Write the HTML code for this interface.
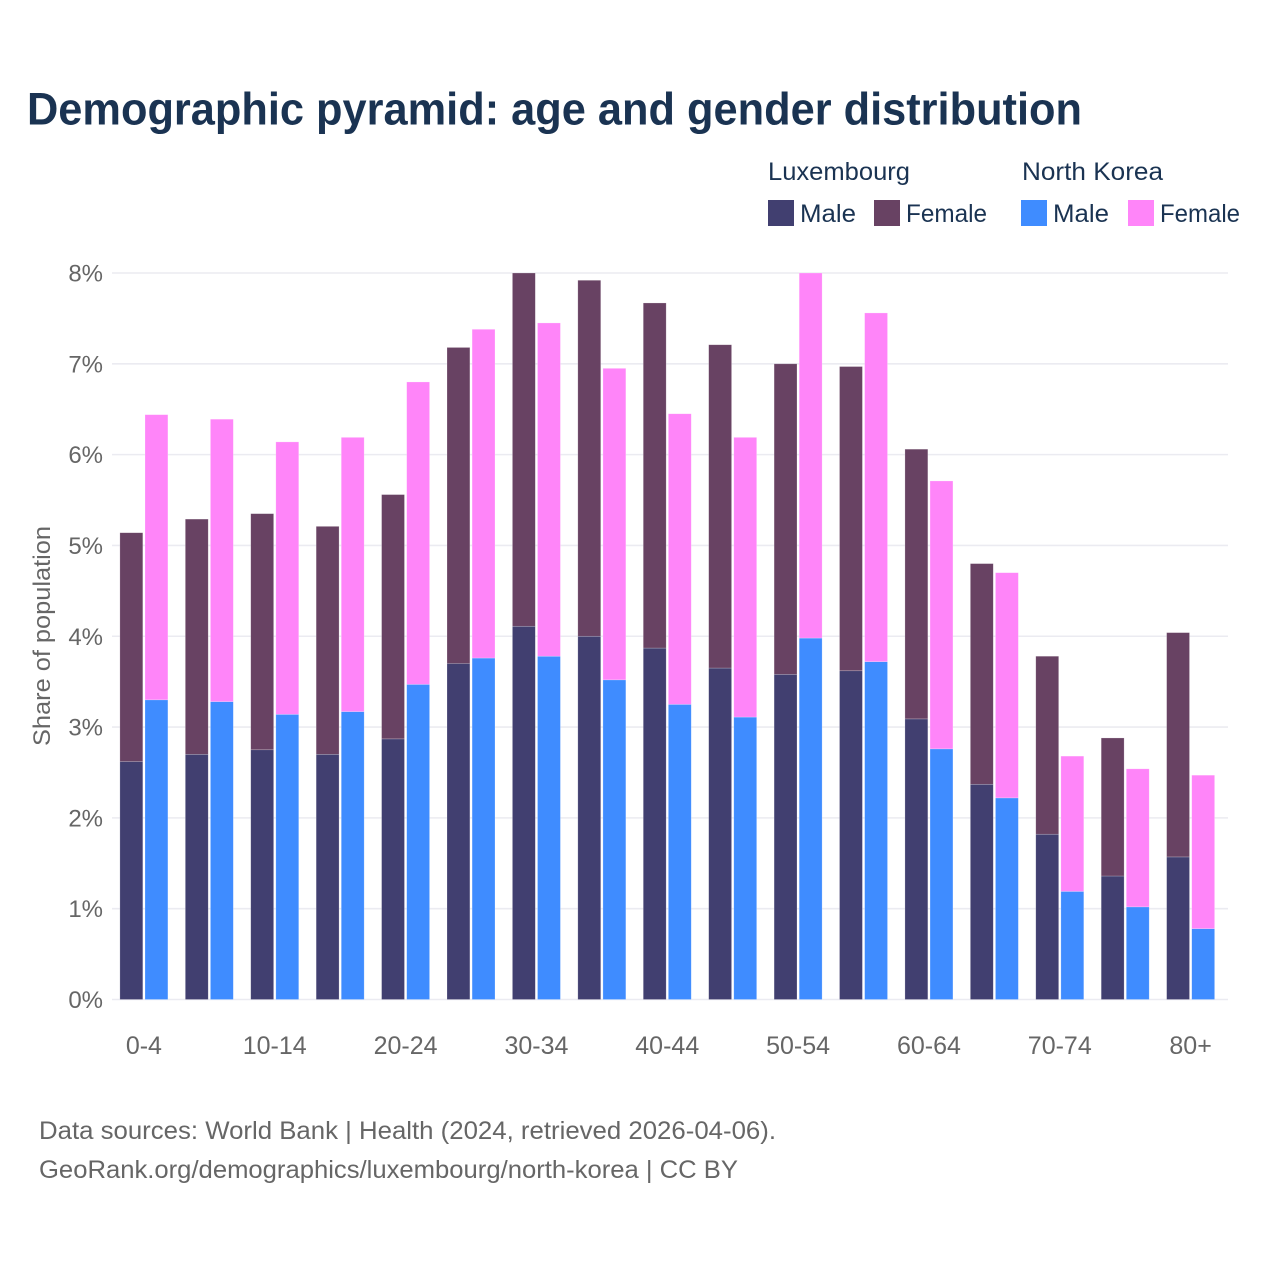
<!DOCTYPE html>
<html lang="en">
<head>
<meta charset="utf-8">
<title>Demographic pyramid: age and gender distribution</title>
<style>
html,body{margin:0;padding:0;background:#fff}
svg{display:block}
text{font-family:"Liberation Sans",sans-serif}
</style>
</head>
<body>
<svg id="chart" xmlns="http://www.w3.org/2000/svg" width="1280" height="1280" viewBox="0 0 1280 1280">
  <rect x="0" y="0" width="1280" height="1280" fill="#ffffff"/>
  <text x="27" y="124.5" font-size="45" font-weight="700" fill="#1a3352" textLength="1055" lengthAdjust="spacingAndGlyphs">Demographic pyramid: age and gender distribution</text>

  <g>
    <text x="768" y="180" font-size="25" fill="#1a3352" textLength="142" lengthAdjust="spacingAndGlyphs">Luxembourg</text>
    <text x="1022" y="180" font-size="25" fill="#1a3352" textLength="141" lengthAdjust="spacingAndGlyphs">North Korea</text>
    <rect x="768" y="200" width="26" height="26" fill="#413f70"/>
    <text x="800" y="222" font-size="25" fill="#1a3352" textLength="56" lengthAdjust="spacingAndGlyphs">Male</text>
    <rect x="874" y="200" width="26" height="26" fill="#684263"/>
    <text x="906" y="222" font-size="25" fill="#1a3352" textLength="81" lengthAdjust="spacingAndGlyphs">Female</text>
    <rect x="1021" y="200" width="26" height="26" fill="#3f8cff"/>
    <text x="1053" y="222" font-size="25" fill="#1a3352" textLength="56" lengthAdjust="spacingAndGlyphs">Male</text>
    <rect x="1128" y="200" width="26" height="26" fill="#ff85f9"/>
    <text x="1160" y="222" font-size="25" fill="#1a3352" textLength="80" lengthAdjust="spacingAndGlyphs">Female</text>
  </g>

  <g id="grid"></g>
  <g id="y-ticks"></g>
  <g id="bars"></g>
  <g id="x-ticks"></g>

  <text transform="translate(50 636) rotate(-90)" text-anchor="middle" font-size="24" fill="#666666" textLength="220" lengthAdjust="spacingAndGlyphs">Share of population</text>

  <text x="39" y="1139" font-size="25" fill="#666666" textLength="737" lengthAdjust="spacingAndGlyphs">Data sources: World Bank | Health (2024, retrieved 2026-04-06).</text>
  <text x="39" y="1178" font-size="25" fill="#666666" textLength="699" lengthAdjust="spacingAndGlyphs">GeoRank.org/demographics/luxembourg/north-korea | CC BY</text>
</svg>
<script>
const categories = ["0-4","5-9","10-14","15-19","20-24","25-29","30-34","35-39","40-44","45-49","50-54","55-59","60-64","65-69","70-74","75-79","80+"];
const luxMale = [2.62,2.70,2.75,2.70,2.87,3.70,4.11,4.00,3.87,3.65,3.58,3.62,3.09,2.37,1.82,1.36,1.57];
const luxFemale = [2.52,2.59,2.60,2.51,2.69,3.48,3.89,3.92,3.80,3.56,3.42,3.35,2.97,2.43,1.96,1.52,2.47];
const nkMale = [3.30,3.28,3.14,3.17,3.47,3.76,3.78,3.52,3.25,3.11,3.98,3.72,2.76,2.22,1.19,1.02,0.78];
const nkFemale = [3.14,3.11,3.00,3.02,3.33,3.62,3.67,3.43,3.20,3.08,4.02,3.84,2.95,2.48,1.49,1.52,1.69];
const yTicks = [0,1,2,3,4,5,6,7,8];
const xLabelStep = 2;

const NS = "http://www.w3.org/2000/svg";
const Y_ZERO = 999.5, Y_TOP = 273, Y_MAX = 8;
const X_FIRST = 143.9, X_STEP = 65.42, BAR_W = 22.9, BAR_GAP = 2.2;
const yScale = v => Y_ZERO - (v / Y_MAX) * (Y_ZERO - Y_TOP);
const xScale = i => X_FIRST + i * X_STEP;

function make(tag, attrs, parent) {
  const el = document.createElementNS(NS, tag);
  for (const k in attrs) el.setAttribute(k, attrs[k]);
  parent.appendChild(el);
  return el;
}

const gridG = document.getElementById("grid");
const yG = document.getElementById("y-ticks");
yTicks.forEach(t => {
  const y = yScale(t);
  const line = make("line", {x1: 112, x2: 1228, y1: y, y2: y, stroke: "#ebebf1", "stroke-width": 1.6}, gridG);
  
  
  const label = make("text", {x: 103, y: y + 8.5, "text-anchor": "end", "font-size": 24, fill: "#666666"}, yG);
  
  
  label.textContent = t + "%";
});

const barsG = document.getElementById("bars");
function drawBar(x, base, value, color, name) {
  const yTopPx = yScale(base + value);
  const yBasePx = yScale(base);
  const r = make("rect", {x: x, y: yTopPx, width: BAR_W, height: yBasePx - yTopPx, fill: color, stroke: "#ffffff", "stroke-opacity": 0.35, "stroke-width": 0.6}, barsG);
  
  
}
categories.forEach((c, i) => {
  const cx = xScale(i);
  const lx = cx - BAR_GAP / 2 - BAR_W;
  const nx = cx + BAR_GAP / 2;
  drawBar(lx, 0, luxMale[i], "#413f70", "bar-luxembourg-male");
  drawBar(lx, luxMale[i], luxFemale[i], "#684263", "bar-luxembourg-female");
  drawBar(nx, 0, nkMale[i], "#3f8cff", "bar-north-korea-male");
  drawBar(nx, nkMale[i], nkFemale[i], "#ff85f9", "bar-north-korea-female");
});

const xG = document.getElementById("x-ticks");
categories.forEach((c, i) => {
  if (i % xLabelStep !== 0) return;
  const label = make("text", {x: xScale(i), y: 1054, "text-anchor": "middle", "font-size": 25, fill: "#666666"}, xG);
  
  
  label.textContent = c;
});
</script>
</body>
</html>
